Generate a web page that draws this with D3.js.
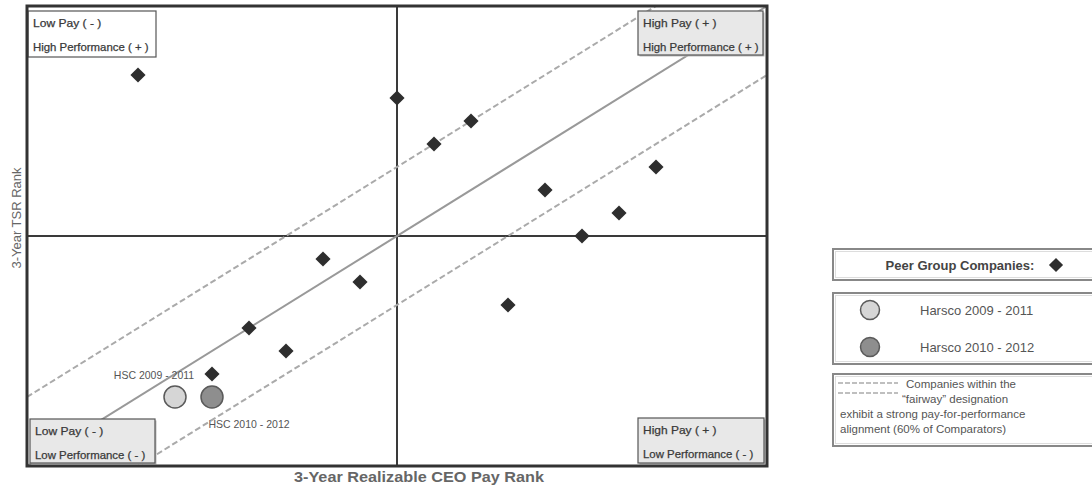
<!DOCTYPE html>
<html><head><meta charset="utf-8">
<script src="https://cdn.jsdelivr.net/npm/d3@7"></script>
<style>body{margin:0;background:#fff;}svg{display:block;font-family:"Liberation Sans",Arial,Helvetica,sans-serif;}</style>
</head><body><svg id="c" width="1092" height="491"></svg>
<script>
// ---- data ----
const peerPayRank = [15, 50, 55, 60, 70, 85, 80, 75, 65, 40, 45, 30, 35, 25];
const peerTsrRank = [85, 80, 70, 75, 60, 65, 55, 50, 35, 45, 40, 30, 25, 20];
const harscoNames = ["HSC 2009 - 2011", "HSC 2010 - 2012"];
const harscoPayRank = [20, 25];
const harscoTsrRank = [15, 15];
const fairwayOffsets = [15, -15];
const quadrantLine1 = ["Low Pay ( - )", "High Pay ( + )", "Low Pay ( - )", "High Pay ( + )"];
const quadrantLine2 = ["High Performance ( + )", "High Performance ( + )", "Low Performance ( - )", "Low Performance ( - )"];
const legendHarsco = ["Harsco 2009 - 2011", "Harsco 2010 - 2012"];
const legendNote = ["Companies within the", "\u201cfairway\u201d designation", "exhibit a strong pay-for-performance", "alignment (60% of Comparators)"];

const svg = d3.select("#c");
const L = 27, R = 767, T = 6, B = 466;
const x = d3.scaleLinear().domain([0, 100]).range([L, R]);
const y = d3.scaleLinear().domain([0, 100]).range([B, T]);
const circleFill = ["#d6d6d6", "#8e8e8e"];

svg.append("clipPath").attr("id", "pc").append("rect")
  .attr("x", L).attr("y", T).attr("width", R - L).attr("height", B - T);

// center cross
svg.append("line").attr("x1", x(50)).attr("x2", x(50)).attr("y1", T).attr("y2", B)
  .attr("stroke", "#3a3a3a").attr("stroke-width", 2);
svg.append("line").attr("x1", L).attr("x2", R).attr("y1", y(50)).attr("y2", y(50))
  .attr("stroke", "#3a3a3a").attr("stroke-width", 2);

const g = svg.append("g").attr("clip-path", "url(#pc)");
// solid diagonal
g.append("line").attr("x1", x(0)).attr("y1", y(0)).attr("x2", x(100)).attr("y2", y(100))
  .attr("stroke", "#999").attr("stroke-width", 2);
// fairway lines
fairwayOffsets.forEach(o => {
  g.append("line").attr("x1", x(0)).attr("y1", y(o)).attr("x2", x(100)).attr("y2", y(100 + o))
    .attr("stroke", "#aaa").attr("stroke-width", 2).attr("stroke-dasharray", "6,3");
});

// harsco labels
svg.append("text").attr("x", x(harscoPayRank[0]) - 21).attr("y", y(harscoTsrRank[0]) - 18)
  .attr("text-anchor", "middle").attr("font-size", 10.5).attr("fill", "#555").text(harscoNames[0]);
svg.append("text").attr("x", x(harscoPayRank[1]) + 37).attr("y", y(harscoTsrRank[1]) + 31)
  .attr("text-anchor", "middle").attr("font-size", 10.5).attr("fill", "#555").text(harscoNames[1]);

// peers
svg.selectAll(".peer").data(peerPayRank).join("path")
  .attr("d", d3.symbol().type(d3.symbolSquare).size(115))
  .attr("transform", (d, i) => `translate(${x(d)},${y(peerTsrRank[i])}) rotate(45)`)
  .attr("fill", "#2e2e2e");

// harsco circles
svg.selectAll(".hsc").data(harscoPayRank).join("circle")
  .attr("cx", d => x(d)).attr("cy", (d, i) => y(harscoTsrRank[i])).attr("r", 11)
  .attr("fill", (d, i) => circleFill[i]).attr("stroke", "#5a5a5a").attr("stroke-width", 1.5);

// quadrant boxes
const qb = [
  {x: 28, y: 11, w: 128, h: 46, fill: "#fff"},
  {x: 638, y: 11, w: 125, h: 44, fill: "#e8e8e8"},
  {x: 30, y: 419, w: 125, h: 44, fill: "#e8e8e8"},
  {x: 638, y: 418, w: 126, h: 45, fill: "#e8e8e8"}
];
qb.forEach((b, i) => {
  if (i > 0) svg.append("rect").attr("x", b.x + 1.5).attr("y", b.y + 1.5).attr("width", b.w).attr("height", b.h).attr("fill", "#bbb");
  svg.append("rect").attr("x", b.x).attr("y", b.y).attr("width", b.w).attr("height", b.h)
    .attr("fill", b.fill).attr("stroke", "#555").attr("stroke-width", 1.2);
  [quadrantLine1[i], quadrantLine2[i]].forEach((t, j) => {
    svg.append("text").attr("x", b.x + 5).attr("y", b.y + 15.5 + j * 24.5).attr("font-size", 10.5)
      .attr("fill", "#3a3a3a").attr("stroke", "#3a3a3a").attr("stroke-width", 0.25)
      .attr("textLength", t.length * 5.25).attr("lengthAdjust", "spacingAndGlyphs").text(t);
  });
});

// frame
svg.append("rect").attr("x", L).attr("y", T).attr("width", R - L).attr("height", B - T)
  .attr("fill", "none").attr("stroke", "#333").attr("stroke-width", 3);

// axis titles
svg.append("text").attr("x", 419).attr("y", 482).attr("text-anchor", "middle")
  .attr("font-size", 15).attr("font-weight", "bold").attr("fill", "#666")
  .attr("textLength", 250).attr("lengthAdjust", "spacingAndGlyphs").text("3-Year Realizable CEO Pay Rank");
svg.append("text").attr("transform", "translate(21,218) rotate(-90)").attr("text-anchor", "middle")
  .attr("font-size", 13).attr("fill", "#666").text("3-Year TSR Rank");

// legend
const lx = 833;
function lbox(yy, h) {
  svg.append("rect").attr("x", lx).attr("y", yy).attr("width", 300).attr("height", h)
    .attr("fill", "#fff").attr("stroke", "#888").attr("stroke-width", 2);
  svg.append("rect").attr("x", lx + 2.5).attr("y", yy + 2.5).attr("width", 300).attr("height", h - 5)
    .attr("fill", "none").attr("stroke", "#ddd").attr("stroke-width", 1);
}
lbox(249, 31);
svg.append("text").attr("x", 960).attr("y", 269.5).attr("text-anchor", "middle").attr("font-size", 13)
  .attr("font-weight", "bold").attr("fill", "#444").text("Peer Group Companies:");
svg.append("path").attr("d", d3.symbol().type(d3.symbolSquare).size(100))
  .attr("transform", "translate(1056,265) rotate(45)").attr("fill", "#2e2e2e");

lbox(293, 71);
legendHarsco.forEach((t, i) => {
  const cy = 310 + i * 37;
  svg.append("circle").attr("cx", 870).attr("cy", cy).attr("r", 9.5)
    .attr("fill", circleFill[i]).attr("stroke", "#5a5a5a").attr("stroke-width", 1.5);
  svg.append("text").attr("x", 920).attr("y", cy + 4.5).attr("font-size", 13).attr("fill", "#555").text(t);
});

lbox(374, 72);
[383, 393].forEach(yy => {
  svg.append("line").attr("x1", 838).attr("x2", 898).attr("y1", yy).attr("y2", yy)
    .attr("stroke", "#aaa").attr("stroke-width", 1.5).attr("stroke-dasharray", "5,2");
});
const noteX = [906, 902, 840, 840];
const noteY = [388, 403, 418, 433];
legendNote.forEach((t, i) => {
  svg.append("text").attr("x", noteX[i]).attr("y", noteY[i]).attr("font-size", 11.5).attr("fill", "#555").text(t);
});
</script></body></html>
